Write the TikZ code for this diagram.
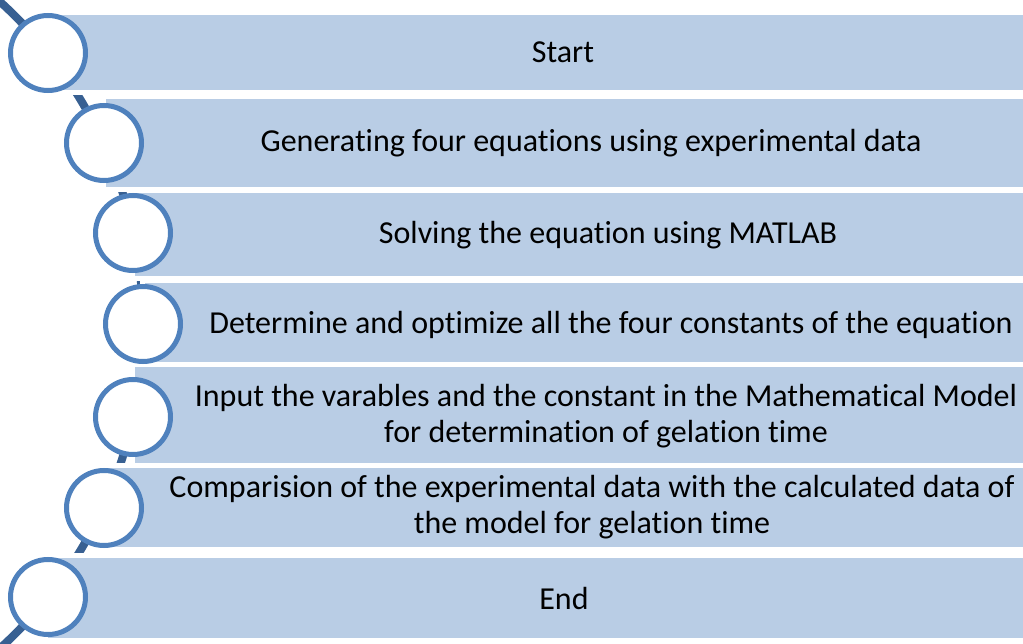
\documentclass[tikz,border=0pt]{standalone}
\usepackage{fontspec}
\setmainfont[Ligatures=NoCommon]{Carlito}
\definecolor{barfill}{RGB}{185,205,229}
\definecolor{ringblue}{RGB}{79,129,189}
\definecolor{arcblue}{RGB}{56,96,146}
\tikzset{
  bar/.style={fill=barfill, draw=white, line width=5pt, anchor=north west, inner sep=0pt, outer sep=0pt},
  ring/.style={circle, fill=white, draw=ringblue, line width=5pt, minimum size=75pt, inner sep=0pt},
  label/.style={align=center, font=\fontsize{32}{35.5}\selectfont, inner sep=0pt, text=black},
  spine/.style={draw=arcblue, line width=8pt}
}
\begin{document}
\begin{tikzpicture}[x=1pt, y=-1pt]
\useasboundingbox (0,0) rectangle (1023,644);
\clip (0,0) rectangle (1023,644);
% spine arc
\coordinate (arcc) at (-294,325);
\draw[spine] (arcc) circle[radius=437pt];
% bars (visible fill = path minus half the white outline on each side)
\node[bar, minimum width=985pt, minimum height=80pt] (r1) at (45.5,12.5) {};
\node[bar, minimum width=927pt, minimum height=93pt] (r2) at (103.5,96.5) {};
\node[bar, minimum width=898pt, minimum height=88pt] (r3) at (132.5,190.5) {};
\node[bar, minimum width=888pt, minimum height=84pt] (r4) at (142.5,280.5) {};
\node[bar, minimum width=898pt, minimum height=101pt] (r5) at (132.5,364.5) {};
\node[bar, minimum width=927pt, minimum height=84pt] (r6) at (103.5,465.5) {};
\node[bar, minimum width=985pt, minimum height=85pt] (r7) at (45.5,555.5) {};
% rings
\node[ring] (c1) at (48,53) {};
\node[ring] (c2) at (104,143) {};
\node[ring] (c3) at (133,233) {};
\node[ring] (c4) at (143,324) {};
\node[ring] (c5) at (133,417) {};
\node[ring] (c6) at (104,508) {};
\node[ring] (c7) at (48,597) {};
% labels
\node[label] (t1) at (563,52) {Start};
\node[label] (t2) at (591,143) {Generating four equations using experimental data};
\node[label] (t3) at (608,235) {Solving the equation using MATLAB};
\node[label] (t4) at (611,325) {Determine and optimize all the four constants of the equation};
\node[label] (t5) at (606,416) {Input the varables and the constant in the Mathematical Model\\for determination of gelation time};
\node[label] (t6) at (592,507) {Comparision of the experimental data with the calculated data of\\the model for gelation time};
\node[label] (t7) at (564,598) {End};
\end{tikzpicture}
\end{document}
